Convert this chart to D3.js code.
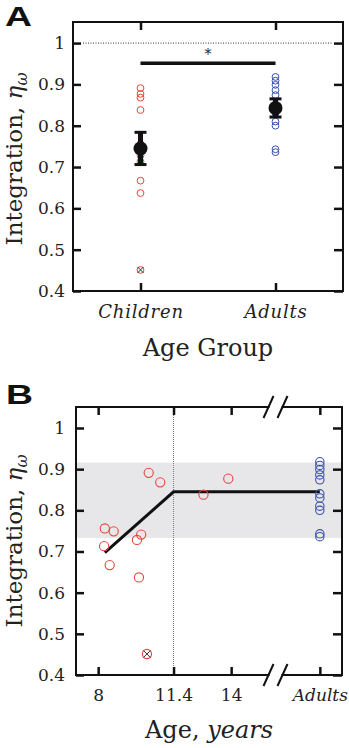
<!DOCTYPE html>
<html>
<head>
<meta charset="utf-8">
<script src="https://cdn.jsdelivr.net/npm/d3@7"></script>
<style>
	body { margin: 0; background: #fff; }
	text { fill: #222; }
</style>
</head>
<body>
<div id="chart"></div>
<script>
// children: age in years and integration value (last one is the excluded outlier)
var childAges = [8.3, 8.7, 8.27, 8.52, 10.28, 10.8, 9.75, 9.94, 12.75, 13.87, 9.84, 10.2];
var childVals = [0.756, 0.749, 0.713, 0.667, 0.891, 0.868, 0.728, 0.741, 0.838, 0.877, 0.637, 0.451];
var childOutlier = [false, false, false, false, false, false, false, false, false, false, false, true];

// adults
var adultVals = [0.918, 0.909, 0.899, 0.886, 0.874, 0.840, 0.830, 0.810, 0.800, 0.743, 0.736];

// group summary (panel A)
var groups = ["Children", "Adults"];
var groupMeans = [0.745, 0.843];
var groupErrs = [0.039, 0.022];
var sigLevel = 0.951;

// fitted broken-stick line (panel B)
var fitAges = [8.3, 11.4, 18];
var fitVals = [0.697, 0.845, 0.845];
var breakAge = 11.4;
var adultRange = [0.733, 0.916];

// ticks
var yTicks = [0.4, 0.5, 0.6, 0.7, 0.8, 0.9, 1];
var ageTicks = [8, 11.4, 14, 18];
var ageTickLabels = ["8", "11.4", "14", "Adults"];
var adultsPos = 18;   // where "Adults" sits on the age axis
var axisBreak = 16;

var W = 349, H = 748;
var serif = "'DejaVu Serif', serif";
var red = "#e2473a", blue = "#3b52a6";

var svg = d3.select("#chart")
	.append("svg")
	.attr("width", W)
	.attr("height", H)
	.style("font-family", serif);

// shared helper: y label with eta_omega
function yLabel(g, x, y) {
	var t = g.append("text")
		.attr("transform", "translate(" + x + "," + y + ") rotate(-90)")
		.attr("text-anchor", "middle")
		.style("font-size", "23px");
	t.append("tspan").text("Integration, ");
	t.append("tspan").style("font-style", "italic").text("η");
	t.append("tspan").style("font-style", "italic").style("font-size", "16px").attr("dy", "0.3em").text("ω");
}

function panelLetter(s, x, y) {
	svg.append("text")
		.attr("x", x).attr("y", y)
		.attr("textLength", 27).attr("lengthAdjust", "spacingAndGlyphs")
		.style("font-family", "'Liberation Sans', Arial, sans-serif")
		.style("font-weight", "bold")
		.style("font-size", "28px")
		.style("fill", "#111")
		.text(s);
}

function styleTicks(sel) {
	sel.select(".domain").remove();
	sel.selectAll(".tick line").attr("stroke", "#111").attr("stroke-width", 2.5);
	sel.selectAll(".tick text").style("font-family", serif).style("font-size", "17px").attr("fill", "#222");
}

// ---------------- PANEL A ----------------
var A = { l: 73, r: 343, t: 22, b: 291 };
var gA = svg.append("g");

var xA = d3.scalePoint().domain(groups).range([A.l, A.r]).padding(0.5);
var yA = d3.scaleLinear().domain([0.4, 1.051]).range([A.b, A.t]);

// dotted line at 1
gA.append("line")
	.attr("x1", A.l + 10).attr("x2", A.r - 10)
	.attr("y1", yA(1)).attr("y2", yA(1))
	.attr("stroke", "#333").attr("stroke-width", 1).attr("stroke-dasharray", "1,1.5");

// significance bar
gA.append("line")
	.attr("x1", xA("Children")).attr("x2", xA("Adults"))
	.attr("y1", yA(sigLevel)).attr("y2", yA(sigLevel))
	.attr("stroke", "#111").attr("stroke-width", 3.5);
gA.append("text")
	.attr("x", (xA("Children") + xA("Adults")) / 2)
	.attr("y", yA(sigLevel) - 4)
	.attr("text-anchor", "middle")
	.style("font-size", "14px")
	.style("fill", "#222")
	.text("*");

// individual points
gA.selectAll("circle.child")
	.data(childVals)
	.enter().append("circle")
	.attr("class", "child")
	.attr("cx", xA("Children"))
	.attr("cy", function(d) { return yA(d); })
	.attr("r", 3.4)
	.attr("fill", "none").attr("stroke", red).attr("stroke-width", 1);
gA.selectAll("circle.adult")
	.data(adultVals)
	.enter().append("circle")
	.attr("class", "adult")
	.attr("cx", xA("Adults"))
	.attr("cy", function(d) { return yA(d); })
	.attr("r", 3.4)
	.attr("fill", "none").attr("stroke", blue).attr("stroke-width", 1);

// outlier cross
childVals.forEach(function(v, i) {
	if (!childOutlier[i]) return;
	var cx = xA("Children"), cy = yA(v), s = 3;
	gA.append("path")
		.attr("d", "M" + (cx - s) + "," + (cy - s) + "L" + (cx + s) + "," + (cy + s) + "M" + (cx - s) + "," + (cy + s) + "L" + (cx + s) + "," + (cy - s))
		.attr("stroke", "#333").attr("stroke-width", 1);
});

// means with error bars
groups.forEach(function(g, i) {
	var cx = xA(g), lo = yA(groupMeans[i] - groupErrs[i]), hi = yA(groupMeans[i] + groupErrs[i]);
	gA.append("line").attr("x1", cx).attr("x2", cx).attr("y1", lo).attr("y2", hi)
		.attr("stroke", "#111").attr("stroke-width", 5);
	[lo, hi].forEach(function(y) {
		gA.append("line").attr("x1", cx - 6).attr("x2", cx + 6).attr("y1", y).attr("y2", y)
			.attr("stroke", "#111").attr("stroke-width", 3);
	});
	gA.append("circle").attr("cx", cx).attr("cy", yA(groupMeans[i])).attr("r", 7).attr("fill", "#111");
});

// axes
gA.append("g").attr("transform", "translate(" + A.l + ",0)")
	.call(d3.axisLeft(yA).tickValues(yTicks).tickSize(-8).tickPadding(8).tickFormat(d3.format("~g")))
	.call(styleTicks);
gA.append("g").attr("transform", "translate(" + A.r + ",0)")
	.call(d3.axisRight(yA).tickValues(yTicks).tickSize(-9).tickFormat(""))
	.call(styleTicks);
gA.append("g").attr("transform", "translate(0," + A.t + ")")
	.call(d3.axisTop(xA).tickSize(-8).tickFormat(""))
	.call(styleTicks);
gA.append("g").attr("transform", "translate(0," + A.b + ")")
	.call(d3.axisBottom(xA).tickSize(-8).tickPadding(14))
	.call(styleTicks)
	.selectAll(".tick text")
	.style("font-style", "italic").style("font-size", "18px").style("letter-spacing", "0.8px");

gA.append("rect")
	.attr("x", A.l).attr("y", A.t).attr("width", A.r - A.l).attr("height", A.b - A.t)
	.attr("fill", "none").attr("stroke", "#111").attr("stroke-width", 2);

gA.append("text")
	.attr("x", 208).attr("y", 356)
	.attr("text-anchor", "middle")
	.style("font-size", "24px")
	.text("Age Group");
yLabel(gA, 22, 159);
panelLetter("A", 5, 25.5);

// ---------------- PANEL B ----------------
var B = { l: 76, r: 342, t: 407, b: 675 };
var gB = svg.append("g");

var xB = d3.scaleLinear().domain([7, 19]).range([B.l, B.r]);
var yB = d3.scaleLinear().domain([0.4, 1.051]).range([B.b, B.t]);

// adult range band
gB.append("rect")
	.attr("x", B.l).attr("width", B.r - B.l)
	.attr("y", yB(adultRange[1])).attr("height", yB(adultRange[0]) - yB(adultRange[1]))
	.attr("fill", "#e7e7e9");

// breakpoint line
gB.append("line")
	.attr("x1", xB(breakAge)).attr("x2", xB(breakAge))
	.attr("y1", B.t).attr("y2", B.b)
	.attr("stroke", "#777").attr("stroke-width", 1).attr("stroke-dasharray", "1,1");

// fit
var line = d3.line()
	.x(function(d) { return xB(d[0]); })
	.y(function(d) { return yB(d[1]); });
gB.append("path")
	.datum(d3.zip(fitAges, fitVals))
	.attr("d", line)
	.attr("fill", "none").attr("stroke", "#111").attr("stroke-width", 3);

// points
gB.selectAll("circle.child")
	.data(d3.zip(childAges, childVals))
	.enter().append("circle")
	.attr("class", "child")
	.attr("cx", function(d) { return xB(d[0]); })
	.attr("cy", function(d) { return yB(d[1]); })
	.attr("r", 4.6)
	.attr("fill", "none").attr("stroke", red).attr("stroke-width", 1.1);
gB.selectAll("circle.adult")
	.data(adultVals)
	.enter().append("circle")
	.attr("class", "adult")
	.attr("cx", xB(adultsPos))
	.attr("cy", function(d) { return yB(d); })
	.attr("r", 4.2)
	.attr("fill", "none").attr("stroke", blue).attr("stroke-width", 1.1);

childVals.forEach(function(v, i) {
	if (!childOutlier[i]) return;
	var cx = xB(childAges[i]), cy = yB(v), s = 3.5;
	gB.append("path")
		.attr("d", "M" + (cx - s) + "," + (cy - s) + "L" + (cx + s) + "," + (cy + s) + "M" + (cx - s) + "," + (cy + s) + "L" + (cx + s) + "," + (cy - s))
		.attr("stroke", "#333").attr("stroke-width", 1);
});

// axes
gB.append("g").attr("transform", "translate(" + B.l + ",0)")
	.call(d3.axisLeft(yB).tickValues(yTicks).tickSize(-8).tickPadding(11).tickFormat(d3.format("~g")))
	.call(styleTicks);
gB.append("g").attr("transform", "translate(" + B.r + ",0)")
	.call(d3.axisRight(yB).tickValues(yTicks).tickSize(-9).tickFormat(""))
	.call(styleTicks);
gB.append("g").attr("transform", "translate(0," + B.t + ")")
	.call(d3.axisTop(xB).tickValues(ageTicks).tickSize(-8).tickFormat(""))
	.call(styleTicks);
var bx = gB.append("g").attr("transform", "translate(0," + B.b + ")")
	.call(d3.axisBottom(xB).tickValues(ageTicks).tickSize(-8).tickPadding(14)
		.tickFormat(function(d, i) { return ageTickLabels[i]; }))
	.call(styleTicks);
bx.selectAll(".tick text")
	.filter(function(d) { return d === adultsPos; })
	.style("font-style", "italic").style("font-size", "17px");

gB.append("rect")
	.attr("x", B.l).attr("y", B.t).attr("width", B.r - B.l).attr("height", B.b - B.t)
	.attr("fill", "none").attr("stroke", "#111").attr("stroke-width", 2);

// axis break marks
[B.t, B.b].forEach(function(y) {
	var bxp = xB(axisBreak);
	gB.append("rect").attr("x", bxp - 6).attr("y", y - 3).attr("width", 12).attr("height", 6).attr("fill", "#fff");
	[-7, 7].forEach(function(o) {
		gB.append("line")
			.attr("x1", bxp + o - 5).attr("y1", y + 11)
			.attr("x2", bxp + o + 5).attr("y2", y - 11)
			.attr("stroke", "#111").attr("stroke-width", 2);
	});
});

var xl = gB.append("text")
	.attr("x", 209).attr("y", 738)
	.attr("text-anchor", "middle")
	.style("font-size", "24px");
xl.append("tspan").text("Age, ");
xl.append("tspan").style("font-style", "italic").text("years");
yLabel(gB, 22, 541);
panelLetter("B", 6, 404);
</script>
</body>
</html>
